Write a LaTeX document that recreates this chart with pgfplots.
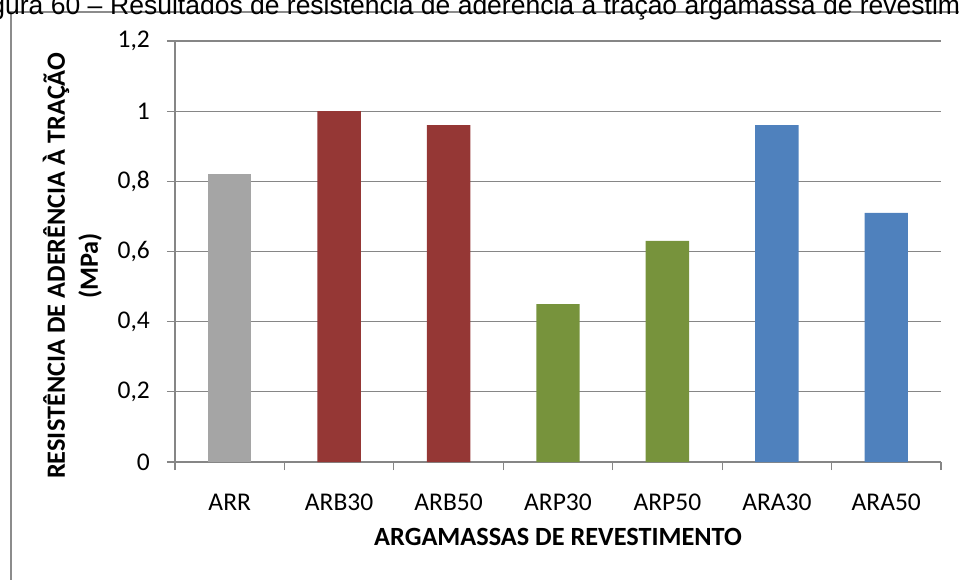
\documentclass[border=0pt]{standalone}
\usepackage{fontspec}
\setmainfont{Carlito}
\newfontfamily\arialfont{Liberation Sans}
\usepackage{pgfplots}
\pgfplotsset{compat=1.18}
\definecolor{gridc}{HTML}{868686}
\definecolor{framec}{HTML}{8C8C8C}
\definecolor{cgray}{HTML}{A5A5A5}
\definecolor{cred}{HTML}{953735}
\definecolor{cgreen}{HTML}{77933C}
\definecolor{cblue}{HTML}{4F81BD}
\begin{document}
\begin{tikzpicture}
\useasboundingbox (0pt,0pt) rectangle (959pt,579pt);
\clip (0pt,0pt) rectangle (959pt,579pt);
\draw[framec, line width=1.5pt] (11pt,-2pt) -- (11pt,567pt) -- (962pt,567pt);
\node[anchor=base west, inner sep=0pt, font=\arialfont\fontsize{26.5}{30}\selectfont] at (110pt,564pt) {Resultados de resistência de aderência à tração argamassa de revestimento};
\node[anchor=base east, inner sep=0pt, font=\arialfont\fontsize{26.5}{30}\selectfont] at (110pt,564pt) {Figura 60 –\kern7.4pt};
\begin{axis}[
  at={(175pt,117pt)}, anchor=south west,
  width=766pt, height=421pt, scale only axis,
  xmin=-0.5, xmax=6.5, ymin=0, ymax=1.2,
  enlargelimits=false, clip=false,
  ybar, bar width=43.4pt, bar shift=0pt,
  axis lines=left,
  axis line style={-, draw=gridc, line width=1.2pt},
  ytick={0,0.2,0.4,0.6,0.8,1,1.2},
  ymajorgrids,
  major grid style={draw=gridc, line width=1.2pt},
  tick align=outside,
  major tick length=8pt, minor tick length=8pt,
  ytick style={draw=gridc, line width=1.2pt},
  xtick={0,1,2,3,4,5,6},
  xticklabels={ARR,ARB30,ARB50,ARP30,ARP50,ARA30,ARA50},
  major x tick style={draw=none},
  minor xtick={-0.5,0.5,1.5,2.5,3.5,4.5,5.5,6.5},
  minor x tick style={draw=gridc, line width=1.2pt},
  /pgf/number format/use comma,
  /pgf/number format/assume math mode=true,
  yticklabel style={font=\fontsize{25.5}{30}\selectfont, inner sep=0pt, anchor=east, xshift=-17pt},
  xticklabel style={font=\fontsize{25.5}{30}\selectfont, inner sep=0pt, anchor=north, yshift=-24pt},
  xlabel={ARGAMASSAS DE REVESTIMENTO},
  xlabel style={font=\bfseries\fontsize{26.3}{32}\selectfont, inner sep=0pt, at={(axis description cs:0.5,0)}, anchor=base, yshift=-83pt},
  ylabel={RESISTÊNCIA DE ADERÊNCIA À TRAÇÃO\\(MPa)},
  ylabel style={font=\bfseries\fontsize{26.3}{33}\selectfont, align=center, inner sep=0pt, at={(rel axis cs:-0.134,0.466)}, anchor=center},
]
\addplot[fill=cgray, draw=none] coordinates {(0,0.82)};
\addplot[fill=cred, draw=none] coordinates {(1,1.00) (2,0.96)};
\addplot[fill=cgreen, draw=none] coordinates {(3,0.45) (4,0.63)};
\addplot[fill=cblue, draw=none] coordinates {(5,0.96) (6,0.71)};
\end{axis}
\end{tikzpicture}
\end{document}
